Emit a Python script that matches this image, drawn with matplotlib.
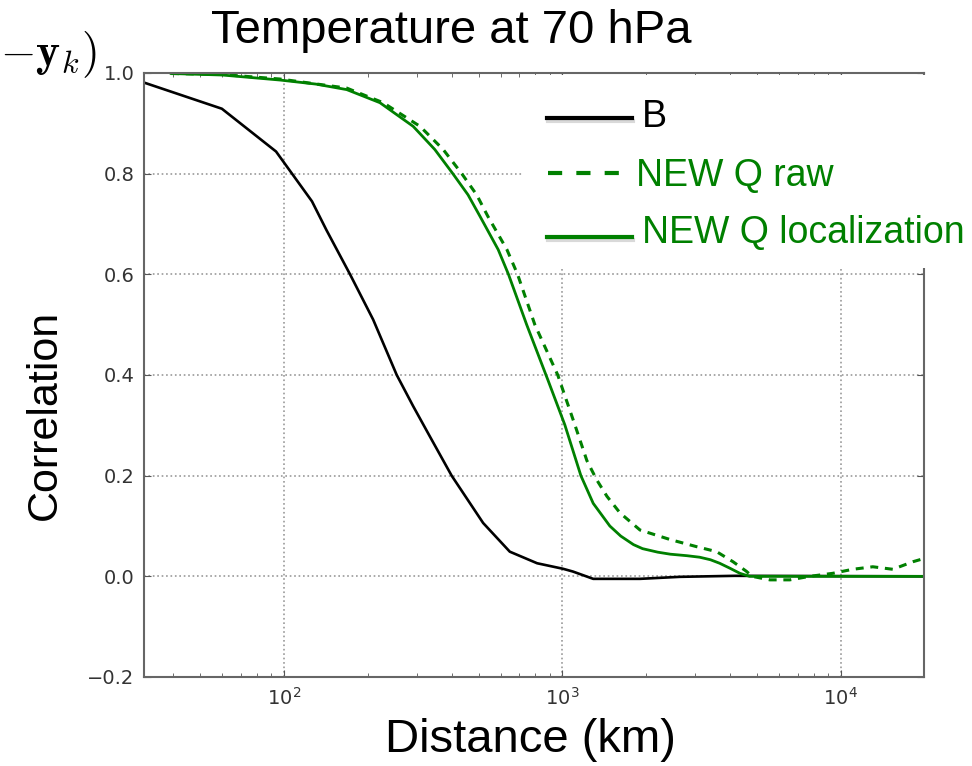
import matplotlib
matplotlib.use("Agg")
import matplotlib.pyplot as plt
from matplotlib.lines import Line2D
from matplotlib.patches import Rectangle
import matplotlib.patheffects as pe

# distance (km) and correlation
dist_b = [31.4, 59.8, 93.6, 126, 142, 172.6, 209, 254, 291, 334, 400, 519,
          647, 811, 1005, 1091, 1290, 1900, 2640, 4150, 19900]
corr_b = [0.981, 0.929, 0.844, 0.745, 0.688, 0.60, 0.51, 0.40, 0.338, 0.278,
          0.20, 0.106, 0.049, 0.026, 0.015, 0.0095, -0.005, -0.005, -0.001,
          0.001, 0.0]

dist_loc = [39.3, 60, 96.8, 130, 168, 221, 291, 348, 404, 458, 506, 588, 640,
            744, 887, 1020, 1165, 1290, 1480, 1620, 1800, 1940, 2200, 2440,
            2800, 3110, 3400, 3670, 4000, 4340, 4700, 19900]
corr_loc = [0.999, 0.996, 0.986, 0.978, 0.967, 0.941, 0.894, 0.848, 0.80,
            0.758, 0.715, 0.649, 0.60, 0.50, 0.39, 0.301, 0.20, 0.145, 0.100,
            0.080, 0.063, 0.055, 0.048, 0.044, 0.041, 0.038, 0.033, 0.026,
            0.016, 0.006, 0.0, 0.0]

dist_raw = [39.3, 60, 96.8, 168, 227, 308, 373, 435, 492, 540, 632, 690, 796,
            962, 1110, 1224, 1327, 1445, 1610, 1900, 2440, 3030, 3580, 4100,
            4580, 4800, 5560, 6560, 7740, 9360, 11040, 13030, 15380, 18150,
            19500]
corr_raw = [0.999, 0.997, 0.988, 0.970, 0.941, 0.894, 0.848, 0.80, 0.758,
            0.715, 0.649, 0.60, 0.50, 0.40, 0.30, 0.23, 0.192, 0.159, 0.126,
            0.092, 0.073, 0.059, 0.049, 0.029, 0.010, 0.0, -0.007, -0.007, 0.0,
            0.006, 0.014, 0.019, 0.014, 0.029, 0.034]

yticks = [-0.2, 0.0, 0.2, 0.4, 0.6, 0.8, 1.0]
legend_labels = ["B", "NEW Q raw", "NEW Q localization"]

W, H = 972, 766
fig = plt.figure(figsize=(W / 100, H / 100), dpi=100)
ax = fig.add_axes([144 / W, 1 - 677 / H, (924 - 144) / W, (677 - 73) / H])

ax.plot(dist_b, corr_b, color="black", lw=1.9)
ax.plot(dist_raw, corr_raw, color="green", lw=2.2, dashes=(2.6, 2.2))
ax.plot(dist_loc, corr_loc, color="green", lw=2)

ax.set_xscale("log")
ax.set_xlim(31.4, 19900)
ax.set_ylim(-0.2, 1.0)
ax.set_yticks(yticks)
ax.set_yticklabels([f"{v:.1f}".replace("-", "\u2212") for v in yticks])
ax.grid(True, which="major", linestyle=":", color="#999999", lw=1.2)
ax.tick_params(which="both", direction="in", top=True, right=True,
               colors="#555555", labelcolor="#333333", labelsize=14)
ax.tick_params(which="major", length=5)
ax.tick_params(which="minor", length=3)
ax.tick_params(axis="y", pad=7)
ax.tick_params(axis="x", pad=7)
for s in ax.spines.values():
    s.set_color("#666666")
    s.set_linewidth(1.5)

fig.text(451 / W, 1 - 31 / H, "Temperature at 70 hPa", ha="center", va="center",
         fontsize=34, family="Liberation Sans")
fig.text(45 / W, 1 - 415 / H, "Correlation", ha="center", va="center",
         rotation=90, fontsize=31, family="Liberation Sans")
fig.text(530 / W, 1 - 740 / H, "Distance (km)", ha="center", va="center",
         fontsize=34, family="Liberation Sans")
# leftover of a formula at the top left corner
fig.text(97 / W, 1 - 55 / H, r"$-\mathbf{y}_k)$", ha="right", va="center",
         fontsize=33, math_fontfamily="cm")

# white patch pasted over the upper right corner, with a hand made legend on it
fig.add_artist(Rectangle((522 / W, 1 - 268 / H), (932 - 522) / W, (268 - 75) / H,
                         transform=fig.transFigure, facecolor="white",
                         edgecolor="none", zorder=5))
shadow = [pe.SimpleLineShadow(offset=(1, -2), alpha=0.15), pe.Normal()]
fig.add_artist(Line2D([547 / W, 632 / W], [1 - 118 / H, 1 - 118 / H],
                      color="black", lw=3, zorder=6, path_effects=shadow))
fig.add_artist(Line2D([548 / W, 620 / W], [1 - 173 / H, 1 - 173 / H],
                      color="green", lw=3, dashes=(3.4, 3.4), zorder=6))
fig.add_artist(Line2D([547 / W, 632 / W], [1 - 237 / H, 1 - 237 / H],
                      color="green", lw=3, zorder=6, path_effects=shadow))
fig.text(642 / W, 1 - 117 / H, legend_labels[0], ha="left", va="center",
         fontsize=27, family="Liberation Sans", color="black", zorder=7)
fig.text(636 / W, 1 - 176 / H, legend_labels[1], ha="left", va="center",
         fontsize=27, family="Liberation Sans", color="green", zorder=7)
fig.text(642 / W, 1 - 233 / H, legend_labels[2], ha="left", va="center",
         fontsize=27, family="Liberation Sans", color="green", zorder=7)

fig.savefig("out.png", dpi=100)
